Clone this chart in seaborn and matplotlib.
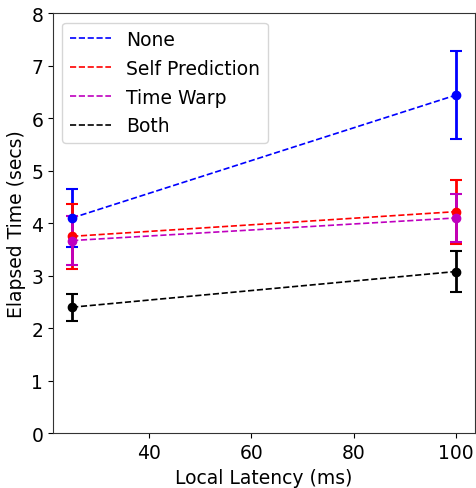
import matplotlib
matplotlib.use("Agg")
import matplotlib.pyplot as plt
import seaborn as sns
import pandas as pd

latency = [25, 100]
series = ["None", "Self Prediction", "Time Warp", "Both"]
colors = ["blue", "red", "m", "black"]
none_mean = [4.10, 6.44]
none_err = [0.55, 0.84]
self_mean = [3.75, 4.22]
self_err = [0.62, 0.61]
tw_mean = [3.67, 4.10]
tw_err = [0.47, 0.45]
both_mean = [2.40, 3.08]
both_err = [0.26, 0.39]

means = [none_mean, self_mean, tw_mean, both_mean]
errs = [none_err, self_err, tw_err, both_err]

sns.set_style("ticks", {"axes.edgecolor": "#333333", "text.color": "black",
                        "axes.labelcolor": "black", "xtick.color": "black",
                        "ytick.color": "black"})
plt.rcParams["font.family"] = ["DejaVu Sans"]

fs = 13.5
fig = plt.figure(figsize=(4.77, 4.89), dpi=100)
ax = fig.add_axes([0.111, 0.112, 0.885, 0.859])

for name, col, m, e in zip(series, colors, means, errs):
    df = pd.DataFrame({"x": latency, "y": m})
    sns.lineplot(data=df, x="x", y="y", color=col, linestyle="--",
                 linewidth=1.2, label=name, ax=ax)
    ax.errorbar(latency, m, yerr=e, fmt="o", color=col, capsize=4,
                elinewidth=2, capthick=1.5, markersize=6)

ax.set_ylim(0, 8)
ax.set_xlim(21.25, 103.75)
ax.set_xticks([40, 60, 80, 100])
ax.set_xlabel("Local Latency (ms)", fontsize=fs)
ax.set_ylabel("Elapsed Time (secs)", fontsize=fs)
ax.tick_params(labelsize=fs, colors="black")
ax.legend(loc="upper left", fontsize=fs, handlelength=2.2, handletextpad=0.8,
          labelspacing=0.52)

fig.savefig("out.png", dpi=100)
